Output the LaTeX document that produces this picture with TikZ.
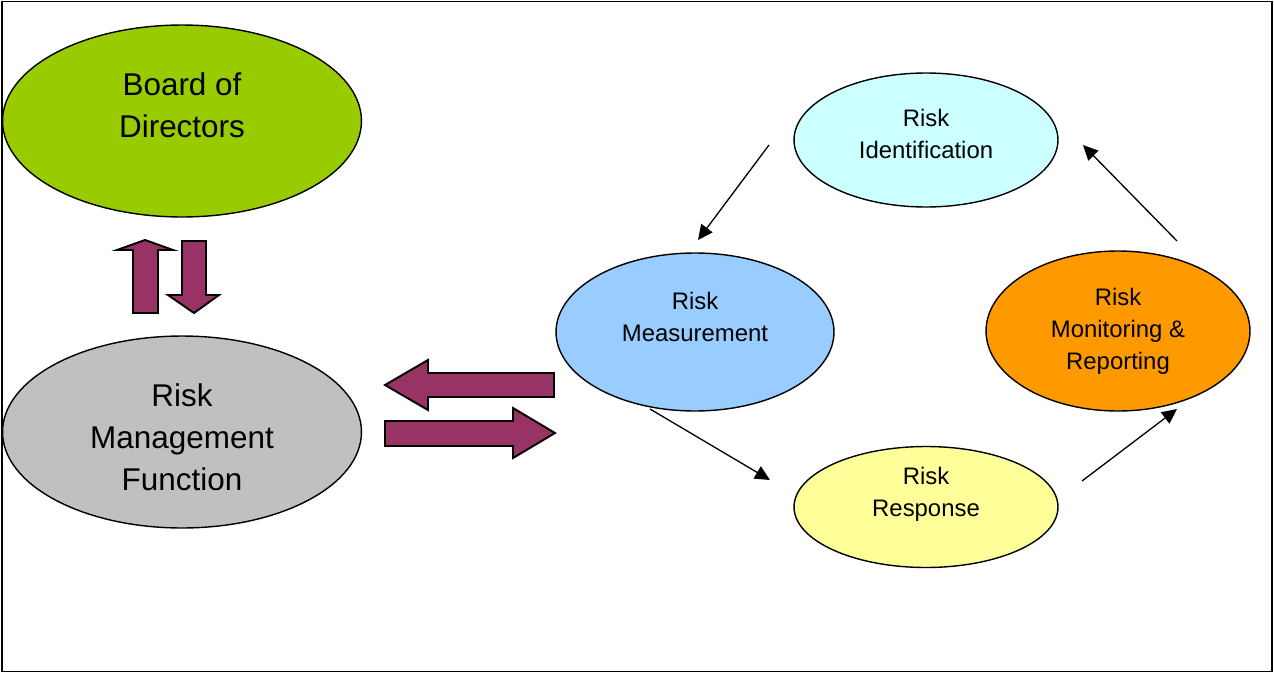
\documentclass[tikz,border=0pt]{standalone}
\usepackage{fontspec}
\setmainfont{Liberation Sans}
\usetikzlibrary{shapes.geometric,arrows.meta}

\definecolor{boardgreen}{HTML}{99CC00}
\definecolor{rmfgrey}{HTML}{C0C0C0}
\definecolor{identcyan}{HTML}{CCFFFF}
\definecolor{measureblue}{HTML}{99CCFF}
\definecolor{monitororange}{HTML}{FF9900}
\definecolor{responseyellow}{HTML}{FFFF99}
\definecolor{plum}{HTML}{993366}

\begin{document}
\begin{tikzpicture}[x=0.02cm,y=-0.02cm,
    body/.style={ellipse,draw,line width=0.8pt,inner sep=0pt,
        minimum width=7.18cm,minimum height=3.84cm},
    stage/.style={ellipse,draw,line width=0.8pt,inner sep=0pt,minimum width=5.28cm},
    bigtext/.style={align=center,inner sep=0pt,font=\fontsize{17.9}{24}\selectfont},
    smalltext/.style={align=center,inner sep=0pt,font=\fontsize{13.6}{18.2}\selectfont},
    bigarrow/.style={draw,line width=1.1pt,fill=plum},
    flow/.style={-{Triangle[length=8.5pt,width=8pt]},line width=0.75pt}
]

% page and frame
\useasboundingbox (0,0) rectangle (1274,673);
\draw[line width=1.1pt] (2,1.5) rectangle (1272,671.5);

% left side
\node[body,fill=boardgreen] (board) at (182,121) {};
\node[bigtext] (boardlabel) at (182,105) {Board of\\Directors};
\node[body,fill=rmfgrey] (rmf) at (182,432) {};
\node[bigtext] (rmflabel) at (182,437) {Risk\\Management\\Function};

% block arrows between board and risk management function
\draw[bigarrow] (133,313) -- (133,250) -- (117,250) -- (145,240) -- (173,250) -- (158,250) -- (158,313) -- cycle;
\draw[bigarrow] (182,241) -- (206,241) -- (206,295) -- (219,295) -- (194,313) -- (168,295) -- (182,295) -- cycle;

% block arrows between function and cycle
\draw[bigarrow] (554,373) -- (428,373) -- (428,360) -- (385,385) -- (428,410) -- (428,397) -- (554,397) -- cycle;
\draw[bigarrow] (385,421) -- (513,421) -- (513,408) -- (555,433) -- (513,458) -- (513,446) -- (385,446) -- cycle;

% the risk cycle
\node[stage,fill=identcyan,minimum height=2.68cm] (ident) at (926,140) {};
\node[smalltext] (identlabel) at (926,134) {Risk\\Identification};
\node[stage,fill=measureblue,minimum width=5.56cm,minimum height=3.16cm] (measure) at (695,332) {};
\node[smalltext] (measurelabel) at (695,317) {Risk\\Measurement};
\node[stage,fill=monitororange,minimum height=3.2cm] (monitor) at (1118,331) {};
\node[smalltext] (monitorlabel) at (1118,331) {Risk\\Monitoring \&\\Reporting};
\node[stage,fill=responseyellow,minimum height=2.42cm] (response) at (926,507) {};
\node[smalltext] (responselabel) at (926,494) {Risk\\Response};

% free ends of the cycle arrows
\coordinate (identout) at (769,145);
\coordinate (measurein) at (698,240);
\coordinate (measureout) at (650,409);
\coordinate (responsein) at (770,480);
\coordinate (responseout) at (1082,481);
\coordinate (monitorin) at (1177,409);
\coordinate (monitorout) at (1177,241);
\coordinate (identin) at (1083,145);

\draw[flow] (identout) -- (measurein);
\draw[flow] (measureout) -- (responsein);
\draw[flow] (responseout) -- (monitorin);
\draw[flow] (monitorout) -- (identin);

\end{tikzpicture}
\end{document}
